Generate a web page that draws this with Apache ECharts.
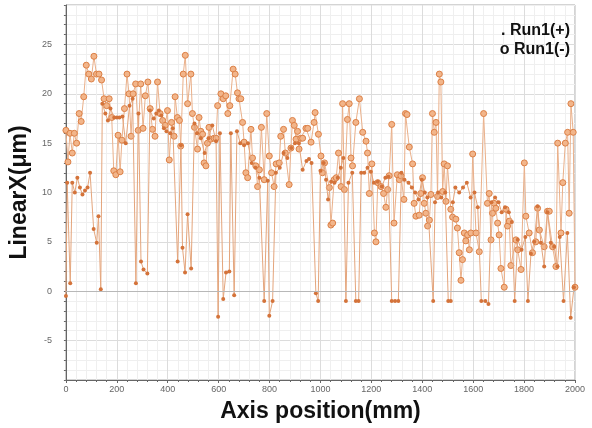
<!DOCTYPE html>
<html>
<head>
<meta charset="utf-8">
<script src="https://cdn.jsdelivr.net/npm/echarts@6/dist/echarts.min.js"></script>
<style>html,body{margin:0;padding:0;background:#fff;}#c{width:592px;height:428px;}</style>
</head>
<body>
<div id="c"></div>
<script>
// Run1(-) (circles): axis position (mm) and LinearX (µm)
const minusPos = [0,8,16,25,33,42,52,60,70,80,90,100,110,120,130,140,150,160,170,180,188,196,205,213,220,230,240,248,256,264,274,284,294,303,312,322,331,340,350,360,370,380,390,399,406,415,425,429,438,446,451,461,469,478,491,497,505,517,523,530,537,543,550,556,562,569,582,590,596,609,618,628,636,644,657,665,674,680,687,694,700,707,714,727,733,746,753,760,768,779,789,799,808,818,826,838,844,855,862,877,884,890,897,904,910,916,923,930,943,950,963,975,979,992,1002,1008,1016,1035,1041,1048,1054,1062,1071,1081,1087,1094,1106,1113,1120,1126,1139,1153,1166,1179,1185,1192,1202,1212,1218,1225,1238,1248,1257,1264,1270,1280,1289,1302,1310,1316,1328,1334,1340,1349,1362,1368,1375,1388,1394,1401,1408,1414,1421,1428,1434,1440,1447,1454,1460,1467,1473,1480,1486,1493,1499,1512,1519,1532,1538,1545,1552,1558,1565,1571,1578,1585,1591,1598,1611,1624,1641,1656,1663,1670,1676,1682,1689,1696,1702,1709,1722,1729,1735,1742,1748,1768,1775,1788,1801,1807,1820,1833,1846,1853,1860,1879,1892,1899,1912,1925,1932,1945,1952,1962,1971,1977,1984,1993,2000];
const minusVal = [16.3,13.1,16.0,14.0,16.0,15.0,18.0,17.2,19.7,22.9,22.0,21.5,23.8,22.0,22.0,21.4,19.5,18.8,19.5,17.6,12.2,11.8,15.8,12.1,15.3,18.5,22.0,20.0,15.7,20.0,21.0,16.3,21.0,16.5,19.8,21.2,18.5,16.4,15.7,21.2,18.0,17.3,16.8,18.3,13.3,17.1,15.7,19.7,17.6,17.3,14.7,22.0,23.9,19.0,22.0,18.0,16.6,14.4,17.6,16.2,15.9,13.0,12.7,15.0,16.6,15.4,15.5,15.5,18.8,20.0,19.5,19.8,18.0,18.8,22.5,22.0,20.1,19.5,19.5,17.1,15.1,12.0,11.5,16.4,13.5,12.7,10.6,12.3,16.6,11.3,18.0,13.7,12.0,10.6,12.9,13.0,15.7,16.4,14.0,10.8,14.5,17.3,16.8,15.4,16.2,14.4,15.5,15.5,16.5,16.5,15.1,17.1,18.1,15.9,13.7,12.0,13.0,10.5,6.7,6.9,11.3,11.5,14.0,10.6,19.0,10.3,17.4,19.0,13.5,12.7,17.1,19.5,16.1,15.2,14.0,9.9,12.9,5.9,5.0,11.0,10.6,9.9,8.5,10.3,11.7,16.9,6.9,11.8,11.3,11.7,9.3,18.0,17.9,14.6,12.9,8.9,7.6,7.7,9.9,11.5,8.9,7.9,6.6,7.2,9.8,18.0,16.1,17.1,9.6,22.0,21.2,10.1,12.9,9.1,12.7,8.3,7.5,7.3,6.4,3.9,1.1,3.2,5.9,5.1,5.7,4.2,5.9,13.9,5.9,4.0,18.0,8.9,9.9,5.2,7.9,8.9,8.4,6.9,5.7,2.3,0.4,8.3,6.6,7.1,2.6,5.2,4.2,2.2,13.0,7.6,5.9,3.9,5.0,8.4,6.2,4.5,8.1,8.1,4.5,2.5,15.0,5.9,11.0,15.0,16.1,7.9,19.0,16.1,0.4];

// Run1(+) (dots)
const plusPos = [0,5,17,25,35,45,55,65,75,85,95,109,121,128,137,143,155,165,175,190,200,210,222,235,250,262,275,285,295,305,320,330,345,355,365,375,385,395,410,420,439,452,458,468,478,492,505,515,530,545,560,575,590,598,605,618,629,642,648,661,672,685,700,715,730,745,760,779,793,799,812,825,840,855,870,885,900,915,930,945,955,965,982,991,1000,1013,1022,1030,1042,1055,1068,1080,1090,1100,1110,1125,1139,1150,1160,1172,1185,1198,1210,1225,1241,1255,1267,1280,1293,1306,1318,1330,1346,1359,1372,1385,1398,1410,1420,1443,1450,1462,1475,1490,1502,1512,1520,1530,1545,1560,1575,1590,1605,1618,1632,1648,1660,1672,1686,1700,1712,1725,1740,1752,1763,1775,1790,1805,1815,1827,1840,1853,1866,1879,1892,1905,1918,1931,1940,1955,1970,1983,1996];
const plusVal = [-0.5,11.0,0.8,11.0,10.0,11.5,10.5,9.8,10.2,10.5,12.0,6.3,4.9,7.6,0.2,19.0,18.0,17.3,18.5,17.6,17.6,17.6,17.7,15.0,18.8,19.5,0.8,18.0,3.0,2.2,1.8,18.3,17.5,18.0,18.3,17.8,16.5,16.2,16.0,16.5,3.0,14.8,4.4,1.9,7.8,2.3,17.0,16.0,15.5,14.0,15.5,16.8,15.2,-2.6,16.0,-0.8,1.9,2.0,16.0,-0.4,16.2,15.0,14.8,15.0,13.0,12.5,11.5,-1.0,11.2,-2.5,-1.0,12.0,12.5,14.0,13.5,14.5,15.0,15.0,12.3,13.2,13.4,13.0,-0.2,-1.0,12.2,13.0,11.3,9.3,11.1,11.0,11.5,12.5,13.5,-1.0,11.0,12.0,-1.0,-1.0,12.0,12.0,12.5,12.1,11.0,11.1,10.6,11.5,11.6,-1.0,-1.0,-1.0,12.0,11.3,11.0,10.5,10.0,9.3,11.3,10.0,9.5,-1.0,9.0,10.0,9.5,10.0,-1.0,-1.0,9.0,10.5,10.0,10.5,11.0,9.5,10.0,8.5,-1.0,-1.0,-1.3,9.0,9.5,9.0,8.0,8.5,8.0,7.0,-1.0,5.2,4.2,5.5,-1.0,3.8,5.0,8.6,4.9,2.5,8.0,4.9,4.5,2.5,5.5,-1.0,5.9,-2.7,0.4];

const xTicks = [0,200,400,600,800,1000,1200,1400,1600,1800,2000];
const yLabelStep = 5;

function pairs(xs, ys){ return xs.map((x,i)=>[x, ys[i]]); }

const chart = echarts.init(document.getElementById('c'));
const font = '"Liberation Sans", Arial, sans-serif';
chart.setOption({
  animation:false,
  backgroundColor:'#fff',
  grid:{left:64,right:17,top:5,bottom:48,show:true,borderColor:'#a8a8a8',borderWidth:1},
  legend:{
    data:['. Run1(+)','o Run1(-)'],
    orient:'vertical', right:12, top:18, icon:'none', itemWidth:0, itemGap:3,
    align:'right',
    textStyle:{fontFamily:font,fontWeight:'bold',fontSize:16,color:'#111'}
  },
  xAxis:{
    type:'value', min:xTicks[0], max:xTicks[xTicks.length-1], interval:200,
    name:'Axis position(mm)', nameLocation:'middle', nameGap:20,
    nameTextStyle:{fontFamily:font,fontWeight:'bold',fontSize:23,color:'#111'},
    axisLine:{show:true,onZero:false,lineStyle:{color:'#666'}},
    axisTick:{show:true,length:3,lineStyle:{color:'#666'}},
    minorTick:{show:true,splitNumber:5,length:2,lineStyle:{color:'#666'}},
    axisLabel:{fontFamily:font,fontSize:9,color:'#666',margin:5,formatter:v=>String(v)},
    splitLine:{show:true,lineStyle:{color:'#dcdcdc',width:1}},
    minorSplitLine:{show:true,lineStyle:{color:'#efefef',width:1}}
  },
  yAxis:{
    type:'value', min:-9, max:29, interval:1,
    name:'LinearX(μm)', nameLocation:'middle', nameGap:31, nameRotate:90,
    nameTextStyle:{fontFamily:font,fontWeight:'bold',fontSize:23,color:'#111'},
    axisLine:{show:true,lineStyle:{color:'#666'}},
    axisTick:{show:true,length:2,lineStyle:{color:'#666'}},
    axisLabel:{fontFamily:font,fontSize:9,color:'#666',margin:14,
      formatter:v=> (v % yLabelStep === 0) ? String(v) : ''},
    splitLine:{show:true,lineStyle:{color:['#efefef','#efefef','#efefef','#efefef','#dcdcdc'],width:1}}
  },
  series:[
    {
      name:'o Run1(-)', type:'line', data:pairs(minusPos, minusVal),
      symbol:'circle', symbolSize:6, showAllSymbol:true,
      lineStyle:{color:'#eab08a',width:1},
      itemStyle:{color:'#f2b58a',borderColor:'#dc8046',borderWidth:1},
      z:3
    },
    {
      name:'. Run1(+)', type:'line', data:pairs(plusPos, plusVal),
      symbol:'circle', symbolSize:4, showAllSymbol:true,
      lineStyle:{color:'#e4a57c',width:1},
      itemStyle:{color:'#d4733a',borderWidth:0},
      z:4,
      markLine:{silent:true,symbol:'none',label:{show:false},
        lineStyle:{color:'#b8b8b8',type:'solid',width:1},data:[{yAxis:0}]}
    }
  ]
});
</script>
</body>
</html>
